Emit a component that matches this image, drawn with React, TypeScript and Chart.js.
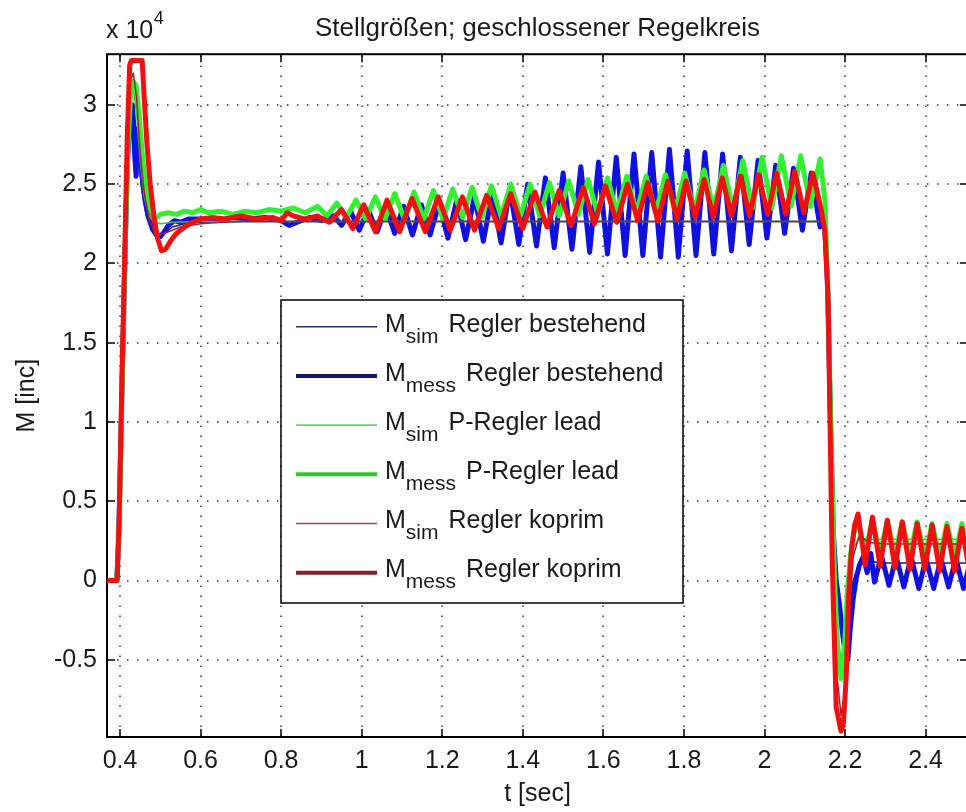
import React, { useEffect, useRef } from 'react';
import { Chart, registerables } from 'chart.js';

Chart.register(...registerables);

// ---------- axis ticks ----------
const xTickValues = [0.4, 0.6, 0.8, 1.0, 1.2, 1.4, 1.6, 1.8, 2.0, 2.2, 2.4];
const xTickLabels = ['0.4', '0.6', '0.8', '1', '1.2', '1.4', '1.6', '1.8', '2', '2.2', '2.4'];
const yTickValues = [-0.5, 0, 0.5, 1, 1.5, 2, 2.5, 3];
const yTickLabels = ['-0.5', '0', '0.5', '1', '1.5', '2', '2.5', '3'];

// ---------- legend text ----------
const legendSubs = ['sim', 'mess', 'sim', 'mess', 'sim', 'mess'];
const legendTexts = ['Regler bestehend', 'Regler bestehend', 'P-Regler lead', 'P-Regler lead', 'Regler koprim', 'Regler koprim'];

// ---------- data (M in units of 10^4 inc, t in sec) ----------
const tSimBest = [0.3677, 0.395, 0.402, 0.41, 0.418, 0.426, 0.434, 0.442, 0.452, 0.465, 0.48, 0.495, 0.51, 0.53, 0.56, 0.6, 0.7, 2.15, 2.16, 2.17, 2.18, 2.19, 2.2, 2.21, 2.22, 2.235, 2.26, 2.3, 2.5052];
const vSimBest = [0, 0, 0.8, 1.8, 2.6, 2.95, 2.98, 2.8, 2.5, 2.3, 2.2, 2.17, 2.19, 2.23, 2.25, 2.26, 2.265, 2.265, 1.5, 0.5, -0.1, -0.3, -0.35, -0.2, 0.0, 0.1, 0.12, 0.11, 0.11];

const tMessBest = [0.3677, 0.392, 0.397, 0.404, 0.411, 0.418, 0.425, 0.431, 0.436, 0.44, 0.444, 0.449, 0.455, 0.462, 0.47, 0.48, 0.49, 0.5, 0.51, 0.52, 0.535, 0.55, 0.57, 0.6, 0.64, 0.68, 0.72, 0.76, 0.8, 0.82, 0.84, 0.87, 0.9, 0.93,
  0.95, 0.972, 0.994, 1.016, 1.038, 1.06, 1.082, 1.104, 1.126, 1.148, 1.17, 1.192, 1.214, 1.236, 1.258, 1.28, 1.302, 1.324, 1.346, 1.368, 1.39, 1.412, 1.434, 1.456, 1.478, 1.5,
  1.522, 1.544, 1.566, 1.588, 1.61, 1.632, 1.654, 1.676, 1.698, 1.72, 1.742, 1.764, 1.786, 1.808, 1.83, 1.852, 1.874, 1.896, 1.918, 1.94, 1.962, 1.984, 2.006, 2.028, 2.05, 2.072, 2.094, 2.116, 2.138,
  2.148, 2.156, 2.164, 2.171, 2.178, 2.186, 2.193, 2.2, 2.207, 2.213, 2.22, 2.228, 2.236, 2.245, 2.255, 2.264, 2.273,
  2.29, 2.309, 2.327, 2.346, 2.364, 2.383, 2.401, 2.42, 2.438, 2.457, 2.475, 2.494, 2.512];
const vMessBest = [0, 0, 0.3, 1.1, 1.9, 2.6, 2.95, 3.0, 2.7, 2.55, 2.85, 2.8, 2.55, 2.4, 2.3, 2.22, 2.18, 2.17, 2.2, 2.24, 2.27, 2.26, 2.28, 2.28, 2.27, 2.29, 2.28, 2.29, 2.27, 2.24, 2.26, 2.29, 2.27, 2.3,
  2.24, 2.33, 2.21, 2.34, 2.2, 2.35, 2.19, 2.36, 2.18, 2.37, 2.18, 2.38, 2.16, 2.4, 2.15, 2.42, 2.14, 2.44, 2.13, 2.47, 2.12, 2.5, 2.11, 2.54, 2.1, 2.57,
  2.09, 2.61, 2.07, 2.64, 2.06, 2.67, 2.05, 2.69, 2.05, 2.7, 2.04, 2.72, 2.04, 2.71, 2.05, 2.7, 2.06, 2.69, 2.08, 2.67, 2.12, 2.65, 2.16, 2.62, 2.19, 2.6, 2.21, 2.57, 2.23,
  2.3, 1.9, 1.0, 0.3, 0.0, -0.15, -0.32, -0.45, -0.5, -0.3, -0.12, 0.02, 0.1, 0.15, 0.05, 0.17, -0.01,
  0.16, -0.03, 0.15, -0.04, 0.15, -0.05, 0.14, -0.05, 0.14, -0.04, 0.14, -0.05, 0.13];

const tSimLead = [0.3677, 0.394, 0.401, 0.409, 0.417, 0.425, 0.433, 0.441, 0.45, 0.46, 0.472, 0.485, 0.5, 0.53, 0.6, 2.15, 2.16, 2.17, 2.18, 2.19, 2.2, 2.21, 2.22, 2.235, 2.26, 2.3, 2.5052];
const vSimLead = [0, 0, 0.8, 1.8, 2.6, 3.0, 3.1, 2.95, 2.65, 2.42, 2.3, 2.26, 2.25, 2.26, 2.265, 2.265, 1.5, 0.4, -0.3, -0.5, -0.35, 0.0, 0.2, 0.27, 0.26, 0.26, 0.26];

const tMessLead = [0.3677, 0.392, 0.398, 0.405, 0.412, 0.419, 0.426, 0.433, 0.44, 0.447, 0.455, 0.463, 0.472, 0.482, 0.492, 0.5, 0.52, 0.54, 0.56, 0.58, 0.6, 0.62, 0.65, 0.68, 0.71, 0.74, 0.77, 0.8, 0.83, 0.86, 0.89,
  0.914, 0.938, 0.962, 0.986, 1.01, 1.034, 1.058, 1.082, 1.106, 1.13, 1.154, 1.178, 1.202, 1.226, 1.25, 1.274, 1.298, 1.322, 1.346, 1.37, 1.394, 1.418, 1.442, 1.466, 1.49,
  1.514, 1.538, 1.562, 1.586, 1.61, 1.634, 1.658, 1.682, 1.706, 1.73, 1.754, 1.778, 1.802, 1.826, 1.85, 1.874, 1.898, 1.922, 1.946, 1.97, 1.994, 2.018, 2.042, 2.066, 2.09, 2.114, 2.138,
  2.15, 2.158, 2.166, 2.174, 2.182, 2.19, 2.197, 2.205, 2.213, 2.222, 2.232,
  2.25, 2.268, 2.287, 2.305, 2.324, 2.342, 2.361, 2.379, 2.398, 2.416, 2.435, 2.453, 2.472, 2.49, 2.509];
const vMessLead = [0, 0, 0.35, 1.2, 2.0, 2.7, 3.05, 3.15, 3.12, 2.95, 2.7, 2.5, 2.37, 2.3, 2.29, 2.31, 2.32, 2.31, 2.33, 2.32, 2.34, 2.32, 2.33, 2.31, 2.33, 2.32, 2.34, 2.33, 2.35, 2.32, 2.36,
  2.3, 2.38, 2.29, 2.4, 2.28, 2.42, 2.28, 2.44, 2.28, 2.45, 2.28, 2.46, 2.28, 2.47, 2.29, 2.48, 2.29, 2.49, 2.3, 2.5, 2.3, 2.5, 2.3, 2.51, 2.3,
  2.52, 2.31, 2.53, 2.31, 2.54, 2.32, 2.55, 2.32, 2.55, 2.32, 2.56, 2.33, 2.57, 2.33, 2.59, 2.34, 2.62, 2.34, 2.65, 2.35, 2.67, 2.35, 2.68, 2.36, 2.68, 2.36, 2.66,
  2.4, 1.8, 0.8, 0.0, -0.45, -0.62, -0.5, -0.1, 0.15, 0.3, 0.38,
  0.18, 0.38, 0.17, 0.38, 0.16, 0.37, 0.16, 0.37, 0.15, 0.36, 0.15, 0.36, 0.15, 0.36, 0.15];

const tSimKoprim = [0.3677, 0.394, 0.401, 0.409, 0.417, 0.425, 0.433, 0.441, 0.45, 0.46, 0.472, 0.485, 0.5, 0.52, 0.55, 0.6, 0.65, 0.7, 2.15, 2.16, 2.17, 2.18, 2.19, 2.2, 2.21, 2.22, 2.235, 2.26, 2.3, 2.5052];
const vSimKoprim = [0, 0, 0.9, 2.0, 2.8, 3.15, 3.2, 3.05, 2.7, 2.45, 2.28, 2.2, 2.18, 2.2, 2.23, 2.25, 2.26, 2.265, 2.265, 1.4, 0.2, -0.6, -0.85, -0.7, -0.2, 0.15, 0.28, 0.24, 0.23, 0.23];

const tMessKoprim = [0.3677, 0.393, 0.398, 0.405, 0.412, 0.418, 0.424, 0.428, 0.455, 0.46, 0.467, 0.475, 0.484, 0.493, 0.503, 0.513, 0.525, 0.54, 0.56, 0.58, 0.6, 0.63, 0.66, 0.7, 0.74, 0.78, 0.8, 0.815, 0.83, 0.86, 0.89, 0.92,
  0.95, 0.978, 1.005, 1.034, 1.063, 1.094, 1.125, 1.158, 1.19, 1.22, 1.25, 1.28, 1.31, 1.34, 1.37, 1.4, 1.43, 1.46, 1.49, 1.52, 1.55, 1.578, 1.605, 1.633,
  1.66, 1.685, 1.71, 1.735, 1.76, 1.783, 1.805, 1.828, 1.85, 1.873, 1.895, 1.918, 1.94, 1.963, 1.985, 2.008, 2.03, 2.053, 2.075, 2.098, 2.12, 2.14,
  2.15, 2.158, 2.168, 2.178, 2.19, 2.196, 2.203, 2.209, 2.216, 2.224, 2.232,
  2.25, 2.268, 2.287, 2.305, 2.324, 2.342, 2.361, 2.379, 2.398, 2.416, 2.435, 2.453, 2.472, 2.49, 2.509];
const vMessKoprim = [0, 0, 0.4, 1.3, 2.1, 2.8, 3.25, 3.28, 3.28, 3.05, 2.75, 2.5, 2.3, 2.16, 2.08, 2.09, 2.14, 2.19, 2.23, 2.26, 2.28, 2.29, 2.28, 2.3, 2.28, 2.29, 2.27, 2.32, 2.3, 2.28, 2.3, 2.26,
  2.34, 2.22, 2.37, 2.2, 2.4, 2.2, 2.41, 2.2, 2.42, 2.21, 2.42, 2.21, 2.43, 2.22, 2.44, 2.22, 2.45, 2.23, 2.46, 2.24, 2.48, 2.25, 2.49, 2.26,
  2.5, 2.27, 2.51, 2.27, 2.52, 2.28, 2.52, 2.29, 2.53, 2.29, 2.54, 2.3, 2.55, 2.3, 2.56, 2.31, 2.57, 2.31, 2.58, 2.32, 2.57, 2.35,
  2.2, 1.77, 0.13, -0.8, -0.95, -0.9, -0.6, -0.1, 0.2, 0.35, 0.42,
  0.1, 0.4, 0.09, 0.38, 0.08, 0.37, 0.07, 0.36, 0.07, 0.35, 0.06, 0.34, 0.06, 0.33, 0.06];

// ---------- styling ----------
const FONT = "'Liberation Sans', Arial, Helvetica, sans-serif";
const TEXT = '#1a1a1a';
const CANVAS_W = 1000;
const CANVAS_H = 812;
const PLOT_LEFT = 107;
const PLOT_RIGHT = 968;
const PLOT_BOTTOM = 737;

const plotColors = ['#1a1a80', '#1010e0', '#40c040', '#30f030', '#a02030', '#f01010'];
const legendColors = ['#2a2a78', '#141464', '#70d070', '#30c830', '#a04050', '#8a1c2c'];
const widths = [1.5, 5, 1.5, 5, 1.5, 5];

const framePlugin = {
  id: 'matlabFrame',
  beforeDatasetsDraw(chart: any) {
    const { ctx, chartArea, scales } = chart;
    const { left, right, top, bottom } = chartArea;
    const x = scales.x;
    const y = scales.y;
    ctx.save();
    // dotted grid
    ctx.strokeStyle = '#303030';
    ctx.lineWidth = 1.5;
    ctx.setLineDash([1.5, 8.5]);
    for (const v of xTickValues) {
      const px = Math.round(x.getPixelForValue(v));
      ctx.beginPath();
      ctx.moveTo(px, bottom);
      ctx.lineTo(px, top);
      ctx.stroke();
    }
    for (const v of yTickValues) {
      const py = Math.round(y.getPixelForValue(v));
      ctx.beginPath();
      ctx.moveTo(left, py);
      ctx.lineTo(right, py);
      ctx.stroke();
    }
    ctx.setLineDash([]);
    // box
    ctx.strokeStyle = '#000';
    ctx.lineWidth = 2;
    ctx.strokeRect(left, top, right - left, bottom - top);
    // inside ticks
    const tl = 8;
    ctx.lineWidth = 1.5;
    ctx.beginPath();
    for (const v of xTickValues) {
      const px = Math.round(x.getPixelForValue(v));
      ctx.moveTo(px, bottom);
      ctx.lineTo(px, bottom - tl);
      ctx.moveTo(px, top);
      ctx.lineTo(px, top + tl);
    }
    for (const v of yTickValues) {
      const py = Math.round(y.getPixelForValue(v));
      ctx.moveTo(left, py);
      ctx.lineTo(left + tl, py);
      ctx.moveTo(right, py);
      ctx.lineTo(right - tl, py);
    }
    ctx.stroke();
    ctx.restore();
  },
  afterDraw(chart: any) {
    const { ctx } = chart;
    ctx.save();
    ctx.fillStyle = TEXT;
    ctx.textAlign = 'left';
    ctx.textBaseline = 'alphabetic';
    ctx.font = `25px ${FONT}`;
    ctx.fillText('x 10', 106, 38);
    const w = ctx.measureText('x 10').width;
    ctx.font = `18px ${FONT}`;
    ctx.fillText('4', 106 + w + 0.5, 23.5);

    // legend
    const bx = 281, by = 300, bw = 402, bh = 303;
    ctx.fillStyle = '#ffffff';
    ctx.fillRect(bx, by, bw, bh);
    ctx.strokeStyle = '#000';
    ctx.lineWidth = 1.5;
    ctx.strokeRect(bx, by, bw, bh);
    for (let i = 0; i < 6; i++) {
      const ly = 326.7 + i * 49.2;
      const base = 332.3 + i * 49.0;
      ctx.strokeStyle = legendColors[i];
      ctx.lineWidth = widths[i] > 2 ? 4 : 1.6;
      ctx.beginPath();
      ctx.moveTo(296, ly);
      ctx.lineTo(377, ly);
      ctx.stroke();
      ctx.fillStyle = TEXT;
      ctx.font = `25px ${FONT}`;
      ctx.fillText('M', 385, base);
      const mw = ctx.measureText('M').width;
      ctx.font = `21px ${FONT}`;
      ctx.fillText(legendSubs[i], 385 + mw, base + 11);
      const sw = ctx.measureText(legendSubs[i]).width;
      ctx.font = `25px ${FONT}`;
      ctx.fillText(legendTexts[i], 385 + mw + sw + 10, base);
    }
    ctx.restore();
  },
};

function mk(t: number[], v: number[]) {
  return t.map((x, i) => ({ x, y: v[i] }));
}

export default function App() {
  const ref = useRef<HTMLCanvasElement>(null);
  useEffect(() => {
    const canvas = ref.current;
    if (!canvas) return;
    const series = [
      [tSimBest, vSimBest],
      [tMessBest, vMessBest],
      [tSimLead, vSimLead],
      [tMessLead, vMessLead],
      [tSimKoprim, vSimKoprim],
      [tMessKoprim, vMessKoprim],
    ];
    const datasets = series.map(([t, v], i) => ({
      label: `M${legendSubs[i]} ${legendTexts[i]}`,
      data: mk(t, v),
      borderColor: plotColors[i],
      backgroundColor: plotColors[i],
      borderWidth: widths[i],
      pointRadius: 0,
      tension: 0,
      fill: false,
      borderJoinStyle: 'round' as const,
      borderCapStyle: 'round' as const,
      order: 5 - i,
    }));
    const tickFont = { family: FONT, size: 25 };
    const chart = new Chart(canvas, {
      type: 'line',
      data: { datasets },
      options: {
        responsive: false,
        animation: false,
        devicePixelRatio: 1,
        layout: { padding: { left: 0, right: CANVAS_W - PLOT_RIGHT, top: 0, bottom: 0 } },
        plugins: {
          legend: { display: false },
          tooltip: { enabled: false },
          title: {
            display: true,
            fullSize: false,
            text: 'Stellgrößen; geschlossener Regelkreis',
            font: { family: FONT, size: 26, weight: 'normal' },
            color: TEXT,
            padding: { top: 13, bottom: 10 },
          },
        },
        scales: {
          x: {
            type: 'linear',
            min: 0.3677,
            max: 2.5052,
            afterBuildTicks: (s: any) => {
              s.ticks = xTickValues.map((v) => ({ value: v }));
            },
            afterFit: (s: any) => {
              s.height = CANVAS_H - PLOT_BOTTOM;
            },
            ticks: {
              callback: (_v: any, i: number) => xTickLabels[i],
              font: tickFont,
              color: TEXT,
              padding: 9,
              maxRotation: 0,
              autoSkip: false,
            },
            grid: { display: false, drawTicks: false },
            border: { display: false },
            title: {
              display: true,
              text: 't [sec]',
              font: { family: FONT, size: 25 },
              color: TEXT,
              padding: { top: 0, bottom: 3 },
            },
          },
          y: {
            type: 'linear',
            min: -0.987,
            max: 3.32,
            afterBuildTicks: (s: any) => {
              s.ticks = yTickValues.map((v) => ({ value: v }));
            },
            afterFit: (s: any) => {
              s.width = PLOT_LEFT;
            },
            ticks: {
              callback: (_v: any, i: number) => yTickLabels[i],
              font: tickFont,
              color: TEXT,
              padding: 10,
              autoSkip: false,
            },
            grid: { display: false, drawTicks: false },
            border: { display: false },
            title: {
              display: true,
              text: 'M [inc]',
              font: { family: FONT, size: 25 },
              color: TEXT,
              padding: { top: 12, bottom: 0 },
            },
          },
        },
      } as any,
      plugins: [framePlugin],
    });
    return () => chart.destroy();
  }, []);

  return (
    <div style={{ position: 'fixed', left: 0, top: 0, width: 966, height: 812, overflow: 'hidden', background: '#fff' }}>
      <canvas ref={ref} width={CANVAS_W} height={CANVAS_H} style={{ display: 'block', width: CANVAS_W, height: CANVAS_H }} />
    </div>
  );
}
